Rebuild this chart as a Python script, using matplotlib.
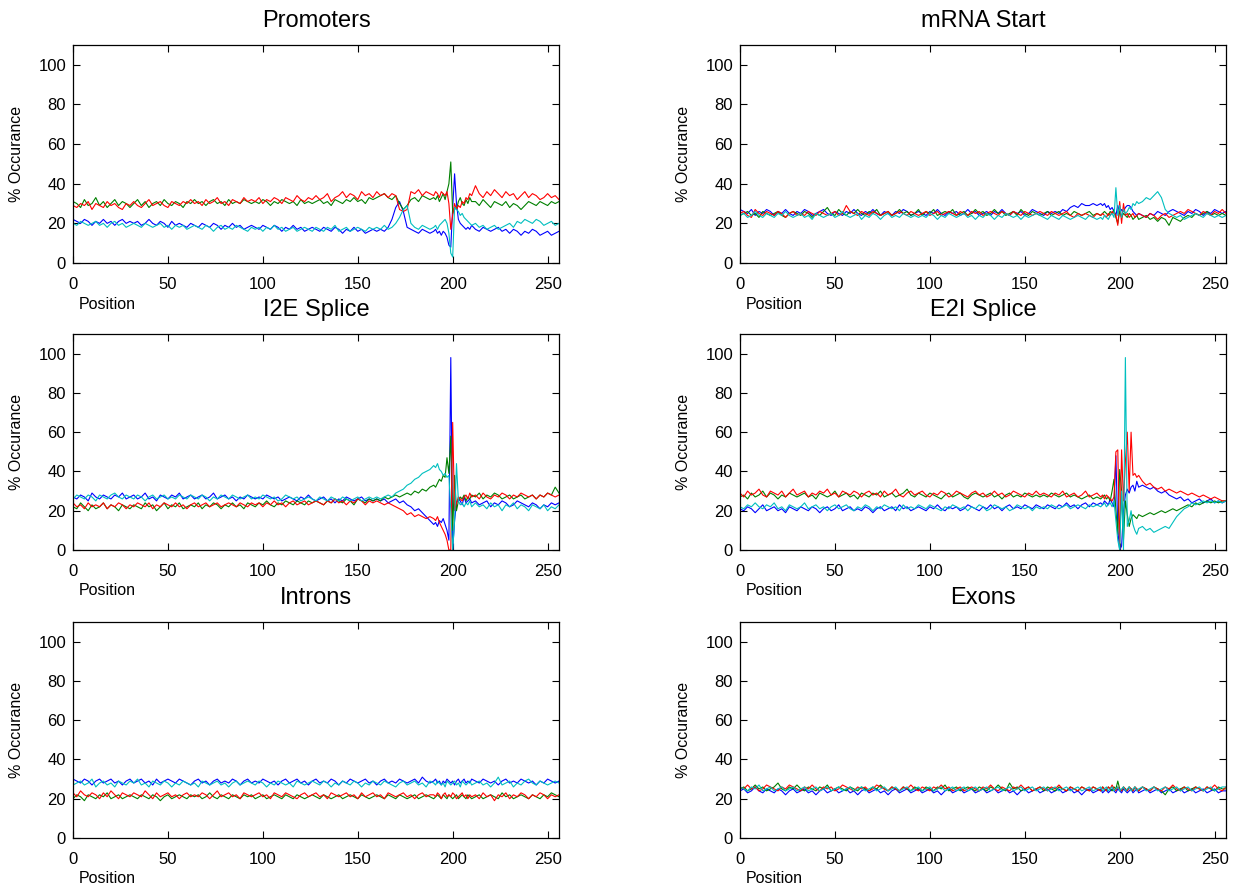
import numpy as np
import matplotlib
matplotlib.use("Agg")
from matplotlib import pyplot as plt

plt.rcParams['font.family'] = ['Liberation Sans', 'DejaVu Sans']

# positions: every 2nd base far from the site, every base around it
pos = np.concatenate([np.arange(0, 190, 2), np.arange(190, 211), np.arange(212, 257, 2)])

titles = ['Promoters', 'mRNA Start', 'I2E Splice', 'E2I Splice', 'Introns', 'Exons']

# ---------------- Promoters ----------------
prom_blue = [22, 21, 20, 22, 21, 19, 21, 20, 22, 20, 21, 19, 21, 22, 20, 21,
             20, 21, 19, 20, 22, 20, 19, 21, 20, 18, 21, 19, 20, 19, 18, 20,
             19, 18, 20, 19, 18, 20, 19, 17, 19, 18, 20, 18, 19, 17, 18, 19,
             18, 17, 19, 18, 17, 19, 18, 16, 18, 17, 19, 17, 18, 16, 17, 18,
             17, 16, 18, 17, 16, 18, 17, 15, 17, 16, 18, 16, 17, 15, 16, 17,
             16, 17, 16, 18, 22, 28, 31, 26, 18, 17, 16, 15, 17, 16, 15,
             16, 17, 15, 16, 14, 16, 15, 13, 9, 8, 28, 45, 30, 22, 20, 19, 18, 17, 18, 17, 19,
             17, 16, 18, 17, 16, 17, 18, 16, 17, 15, 17, 16, 14, 16, 15, 17, 16, 14, 15, 16, 14, 15, 16]
prom_green = [31, 30, 28, 32, 29, 30, 33, 29, 31, 28, 30, 32, 29, 31, 30, 28,
              30, 32, 29, 31, 28, 30, 31, 29, 32, 30, 29, 31, 30, 28, 31, 30,
              32, 30, 31, 29, 31, 32, 30, 31, 29, 32, 30, 31, 30, 32, 31, 30,
              31, 30, 32, 31, 29, 31, 30, 32, 31, 30, 31, 29, 32, 30, 31, 30,
              31, 32, 30, 31, 29, 32, 31, 30, 32, 31, 33, 31, 32, 30, 33, 32,
              33, 34, 35, 33, 32, 34, 30, 27, 29, 32, 33, 31, 34, 33, 32,
              33, 32, 34, 31, 33, 35, 32, 36, 40, 51, 25, 28, 27, 31, 33, 30, 29, 32, 30, 33, 31,
              31, 29, 32, 30, 28, 31, 30, 29, 31, 28, 30, 29, 27, 29, 31, 30, 29, 31, 30, 29, 31, 30, 31]
prom_red = [29, 28, 30, 29, 31, 27, 30, 29, 28, 31, 29, 30, 28, 27, 30, 29,
            31, 29, 28, 30, 32, 29, 30, 31, 29, 28, 31, 30, 29, 31, 30, 32,
            30, 31, 29, 32, 30, 31, 33, 30, 31, 29, 32, 31, 30, 33, 31, 32,
            31, 33, 30, 32, 31, 33, 32, 30, 33, 32, 31, 34, 32, 31, 33, 32,
            34, 32, 33, 35, 31, 33, 34, 36, 33, 35, 34, 32, 36, 34, 35, 33,
            36, 34, 35, 33, 35, 34, 27, 26, 27, 36, 35, 37, 34, 36, 35,
            34, 36, 35, 33, 36, 35, 34, 36, 30, 17, 24, 30, 27, 29, 28, 31, 30, 33, 32, 35, 34,
            39, 35, 33, 36, 34, 37, 35, 33, 36, 34, 35, 32, 34, 36, 33, 35, 34, 32, 33, 35, 33, 34, 32]
prom_cyan = [20, 19, 21, 20, 19, 20, 21, 19, 20, 18, 20, 21, 19, 20, 18, 19,
             20, 19, 18, 20, 19, 18, 19, 20, 18, 19, 17, 19, 18, 19, 17, 18,
             19, 18, 17, 19, 18, 16, 18, 19, 17, 18, 17, 19, 18, 17, 16, 18,
             17, 18, 16, 18, 17, 19, 17, 18, 16, 17, 18, 16, 17, 18, 17, 16,
             18, 17, 16, 18, 17, 19, 16, 17, 18, 16, 17, 18, 17, 16, 18, 17,
             18, 17, 19, 17, 18, 20, 23, 27, 29, 20, 18, 17, 19, 18, 17,
             18, 19, 17, 19, 20, 21, 22, 20, 15, 5, 3, 28, 27, 26, 24, 25, 23, 22, 21, 20, 19,
             20, 18, 19, 17, 18, 19, 17, 18, 19, 20, 18, 21, 20, 22, 21, 20, 22, 21, 19, 20, 21, 19, 20]

# ---------------- mRNA Start ----------------
mrna_blue = [27, 26, 25, 27, 24, 26, 25, 27, 26, 24, 26, 25, 27, 25, 24, 26,
             25, 27, 26, 24, 25, 26, 27, 25, 24, 26, 25, 24, 26, 25, 27, 25,
             24, 26, 25, 27, 25, 24, 26, 25, 24, 26, 25, 27, 26, 24, 25, 26,
             25, 24, 26, 25, 27, 25, 24, 26, 25, 26, 24, 25, 27, 25, 26, 24,
             25, 26, 24, 26, 25, 27, 25, 24, 26, 25, 26, 24, 25, 27, 26, 25,
             24, 26, 25, 26, 25, 27, 26, 28, 29, 28, 30, 29, 29, 30, 29,
             30, 29, 30, 28, 29, 27, 28, 26, 24, 29, 25, 27, 26, 28, 29, 29, 28, 26, 25, 24, 25,
             24, 23, 25, 24, 26, 25, 24, 26, 27, 26, 25, 24, 26, 25, 27, 26, 24, 26, 25, 27, 26, 25, 26]
mrna_green = [24, 25, 26, 24, 25, 23, 26, 25, 24, 25, 26, 24, 23, 25, 26, 25,
              24, 26, 25, 23, 25, 24, 26, 28, 25, 24, 27, 25, 24, 26, 25, 27,
              25, 24, 26, 25, 27, 24, 25, 26, 24, 25, 27, 25, 26, 24, 25, 27,
              24, 26, 25, 27, 24, 25, 26, 25, 27, 24, 25, 26, 24, 25, 27, 25,
              26, 24, 25, 27, 25, 26, 24, 25, 26, 24, 27, 25, 24, 26, 25, 24,
              25, 26, 24, 25, 26, 24, 25, 24, 26, 25, 24, 25, 26, 24, 25,
              24, 25, 26, 25, 24, 26, 25, 27, 23, 20, 26, 23, 25, 24, 23, 25, 24, 22, 23, 24, 22,
              23, 24, 22, 23, 21, 23, 22, 19, 23, 22, 21, 23, 24, 23, 25, 24, 25, 26, 24, 25, 24, 25, 24]
mrna_red = [25, 26, 24, 23, 27, 25, 24, 26, 25, 24, 26, 25, 23, 25, 26, 24,
            25, 24, 26, 25, 24, 26, 25, 24, 25, 26, 24, 25, 29, 26, 25, 24,
            26, 25, 24, 26, 25, 24, 25, 26, 24, 25, 26, 25, 24, 26, 25, 24,
            25, 26, 24, 25, 26, 24, 25, 26, 25, 24, 26, 25, 24, 26, 25, 26,
            24, 25, 26, 25, 24, 26, 25, 24, 26, 25, 24, 26, 25, 24, 25, 26,
            25, 24, 26, 25, 24, 25, 26, 24, 23, 25, 24, 25, 24, 23, 25,
            24, 25, 24, 23, 25, 24, 26, 25, 24, 19, 31, 20, 30, 24, 25, 23, 24, 25, 23, 24, 25,
            24, 23, 25, 24, 22, 24, 25, 23, 24, 25, 26, 25, 27, 26, 25, 24, 26, 25, 24, 26, 25, 27, 25]
mrna_cyan = [24, 25, 23, 24, 26, 24, 23, 25, 24, 23, 25, 24, 26, 24, 23, 24,
             25, 23, 24, 22, 25, 24, 23, 24, 25, 23, 24, 26, 24, 23, 24, 25,
             22, 24, 23, 25, 24, 22, 24, 25, 23, 24, 23, 25, 24, 23, 24, 23,
             24, 23, 25, 24, 22, 24, 23, 25, 24, 23, 24, 25, 23, 24, 22, 24,
             23, 25, 24, 22, 24, 23, 25, 24, 23, 24, 22, 24, 23, 24, 25, 24,
             23, 22, 24, 23, 22, 24, 23, 22, 23, 24, 23, 22, 24, 23, 22,
             23, 22, 24, 23, 22, 24, 25, 23, 38, 24, 29, 23, 27, 25, 26, 28, 27, 30, 29, 31, 30,
             31, 33, 32, 34, 36, 33, 27, 25, 24, 23, 24, 22, 23, 24, 25, 24, 23, 25, 24, 23, 24, 23, 24]

# ---------------- I2E Splice ----------------
i2e_blue = [27, 26, 28, 27, 25, 29, 27, 26, 28, 27, 26, 28, 27, 29, 26, 27,
            28, 26, 27, 29, 26, 27, 25, 28, 27, 26, 28, 27, 29, 26, 27, 28,
            26, 27, 28, 26, 27, 29, 26, 27, 28, 26, 27, 25, 27, 26, 28, 27,
            26, 27, 26, 28, 27, 26, 27, 25, 26, 27, 26, 25, 27, 26, 28, 26,
            25, 26, 27, 25, 26, 24, 26, 25, 27, 26, 25, 26, 27, 25, 26, 25,
            26, 25, 26, 24, 25, 26, 24, 25, 23, 22, 20, 21, 19, 17, 15,
            13, 14, 12, 15, 14, 16, 13, 10, 5, 98, 0, 15, 24, 26, 25, 23, 27, 24, 25, 26, 24,
            25, 23, 24, 25, 22, 24, 23, 25, 24, 22, 23, 25, 24, 23, 22, 24, 23, 21, 23, 22, 24, 23, 24]
i2e_green = [22, 21, 24, 22, 20, 23, 21, 22, 24, 21, 23, 22, 20, 23, 22, 21,
             23, 22, 21, 24, 22, 23, 20, 22, 24, 21, 23, 22, 24, 21, 22, 23,
             22, 24, 21, 23, 22, 24, 23, 21, 23, 22, 24, 22, 23, 21, 24, 23,
             22, 24, 23, 25, 23, 22, 24, 23, 25, 24, 23, 25, 24, 23, 25, 24,
             25, 24, 23, 25, 24, 26, 25, 24, 26, 25, 23, 26, 25, 24, 26, 25,
             26, 25, 27, 26, 27, 28, 27, 28, 29, 28, 30, 29, 31, 30, 32,
             33, 32, 34, 36, 35, 38, 37, 47, 39, 58, 10, 38, 20, 25, 27, 26, 28, 25, 27, 26, 28,
             27, 29, 26, 28, 27, 29, 28, 26, 27, 28, 26, 27, 28, 26, 27, 28, 26, 28, 27, 29, 28, 32, 29]
i2e_red = [24, 22, 23, 21, 24, 22, 23, 22, 24, 21, 23, 22, 24, 23, 21, 23,
           22, 24, 23, 22, 24, 21, 23, 22, 24, 23, 22, 24, 22, 23, 21, 23,
           24, 22, 23, 24, 22, 23, 24, 22, 23, 24, 23, 22, 24, 23, 22, 24,
           23, 24, 22, 24, 23, 25, 23, 24, 22, 24, 25, 23, 24, 25, 23, 24,
           25, 24, 23, 25, 24, 26, 24, 25, 23, 25, 24, 26, 25, 23, 25, 24,
           25, 24, 23, 24, 23, 22, 21, 20, 18, 19, 17, 18, 17, 16, 17,
           16, 15, 17, 14, 12, 10, 8, 5, 0, 0, 65, 20, 24, 27, 26, 25, 27, 28, 26, 29, 27,
           28, 26, 29, 27, 26, 28, 27, 29, 28, 26, 28, 27, 29, 28, 27, 28, 26, 28, 27, 29, 28, 27, 28]
i2e_cyan = [26, 28, 27, 26, 28, 27, 25, 28, 27, 26, 28, 29, 27, 26, 28, 27,
            26, 28, 27, 25, 27, 28, 26, 27, 28, 26, 27, 26, 28, 27, 26, 28,
            27, 26, 28, 27, 25, 27, 26, 28, 27, 26, 28, 27, 26, 27, 28, 26,
            27, 26, 28, 27, 26, 27, 25, 26, 28, 27, 26, 27, 25, 26, 27, 26,
            25, 27, 26, 25, 27, 26, 25, 27, 26, 25, 26, 27, 25, 26, 27, 26,
            27, 26, 27, 28, 27, 29, 30, 31, 33, 34, 36, 37, 39, 40, 41,
            43, 42, 44, 41, 40, 38, 39, 37, 38, 20, 0, 15, 44, 25, 23, 24, 22, 24, 23, 25, 22,
            24, 22, 23, 21, 24, 22, 23, 20, 23, 22, 24, 21, 23, 22, 20, 23, 22, 21, 23, 20, 22, 21, 23]

# ---------------- E2I Splice ----------------
e2i_blue = [21, 20, 22, 21, 19, 21, 23, 20, 21, 22, 20, 21, 19, 22, 21, 20,
            22, 21, 20, 22, 21, 19, 21, 22, 20, 21, 23, 20, 21, 22, 20, 21,
            20, 22, 21, 19, 21, 22, 20, 21, 22, 20, 23, 21, 22, 20, 21, 22,
            21, 20, 22, 21, 23, 21, 20, 22, 21, 22, 20, 21, 23, 22, 21, 20,
            22, 21, 23, 21, 22, 20, 22, 23, 21, 22, 21, 23, 22, 21, 23, 22,
            21, 23, 22, 21, 23, 22, 24, 22, 23, 21, 23, 24, 22, 24, 23,
            24, 23, 25, 24, 23, 26, 24, 22, 48, 10, 0, 2, 20, 28, 31, 29, 32, 33, 30, 35, 32,
            33, 32, 31, 32, 30, 29, 30, 28, 27, 26, 27, 25, 26, 24, 25, 26, 24, 25, 26, 24, 25, 24, 25]
e2i_green = [27, 28, 26, 29, 27, 28, 30, 27, 29, 28, 26, 28, 27, 29, 28, 27,
             28, 29, 27, 28, 26, 29, 28, 27, 28, 30, 27, 28, 29, 27, 28, 26,
             29, 28, 27, 29, 28, 30, 27, 28, 29, 27, 28, 29, 31, 28, 27, 29,
             28, 27, 29, 28, 27, 26, 28, 29, 27, 28, 29, 27, 26, 28, 29, 28,
             27, 28, 29, 27, 28, 26, 28, 29, 27, 28, 27, 29, 28, 27, 28, 27,
             28, 27, 29, 28, 27, 28, 29, 27, 28, 27, 26, 27, 28, 26, 27,
             26, 27, 28, 26, 27, 25, 30, 36, 20, 8, 41, 30, 5, 25, 18, 12, 16, 18, 17, 16, 18,
             17, 18, 19, 18, 19, 20, 19, 20, 21, 20, 21, 22, 23, 22, 24, 23, 24, 25, 24, 25, 24, 25, 25]
e2i_red = [29, 27, 30, 28, 29, 31, 28, 27, 30, 29, 28, 30, 27, 29, 31, 28,
           29, 30, 27, 29, 28, 30, 29, 31, 28, 29, 27, 30, 29, 28, 30, 29,
           27, 29, 30, 28, 29, 27, 30, 28, 29, 31, 28, 27, 29, 30, 28, 29,
           30, 28, 27, 29, 28, 30, 29, 27, 28, 30, 29, 28, 27, 29, 30, 28,
           29, 27, 28, 30, 28, 29, 27, 28, 30, 29, 28, 27, 29, 28, 30, 28,
           29, 28, 27, 29, 28, 30, 27, 28, 29, 27, 28, 30, 27, 28, 29,
           27, 28, 26, 28, 27, 26, 25, 27, 50, 51, 0, 51, 25, 45, 60, 30, 60, 38, 39, 37, 38,
           35, 33, 34, 32, 31, 32, 30, 31, 30, 29, 30, 29, 28, 29, 28, 27, 28, 27, 26, 27, 26, 25, 25]
e2i_cyan = [22, 21, 23, 22, 24, 22, 21, 23, 22, 24, 21, 22, 20, 23, 22, 21,
            22, 24, 21, 22, 23, 21, 22, 20, 22, 23, 21, 22, 23, 21, 20, 22,
            21, 23, 22, 20, 22, 21, 23, 22, 21, 22, 20, 23, 21, 22, 21, 23,
            22, 21, 23, 22, 21, 20, 22, 21, 23, 22, 21, 22, 20, 22, 21, 23,
            22, 20, 21, 23, 22, 21, 22, 20, 21, 23, 22, 21, 22, 20, 22, 21,
            22, 21, 23, 22, 21, 22, 23, 21, 22, 23, 22, 21, 23, 22, 23,
            22, 23, 24, 22, 23, 24, 22, 25, 15, 5, 0, 30, 0, 98, 12, 15, 20, 13, 10, 8, 11,
            12, 10, 11, 9, 10, 11, 12, 11, 14, 17, 19, 21, 22, 24, 23, 24, 25, 24, 25, 24, 25, 24, 25]

# ---------------- Introns ----------------
intr_blue = [30, 29, 28, 30, 29, 27, 29, 30, 28, 29, 30, 28, 29, 27, 29, 30,
             28, 29, 30, 28, 29, 27, 30, 28, 29, 30, 29, 28, 30, 29, 28, 27,
             29, 30, 28, 29, 27, 29, 30, 28, 29, 28, 30, 29, 27, 29, 30, 28,
             29, 28, 30, 29, 28, 29, 27, 29, 30, 28, 29, 30, 28, 29, 27, 29,
             30, 28, 29, 28, 30, 29, 27, 29, 28, 30, 29, 28, 29, 30, 28, 29,
             27, 29, 30, 28, 29, 28, 30, 29, 28, 29, 30, 28, 31, 29, 28,
             29, 30, 28, 29, 27, 29, 28, 30, 29, 28, 29, 27, 29, 30, 28, 29, 30, 28, 29, 28, 30,
             29, 28, 30, 29, 28, 29, 27, 29, 30, 28, 29, 28, 30, 29, 28, 29, 27, 29, 28, 30, 29, 28, 29]
intr_green = [20, 22, 21, 19, 22, 21, 20, 22, 21, 23, 20, 21, 22, 20, 21, 22,
              21, 20, 22, 21, 20, 22, 21, 19, 21, 22, 20, 21, 22, 21, 20, 22,
              21, 22, 20, 21, 23, 21, 20, 22, 21, 20, 22, 21, 20, 22, 21, 22,
              20, 21, 22, 20, 21, 22, 21, 20, 22, 21, 20, 22, 21, 20, 21, 22,
              21, 20, 22, 21, 20, 21, 22, 20, 21, 22, 21, 20, 22, 21, 20, 21,
              22, 21, 20, 22, 21, 20, 22, 21, 20, 21, 22, 20, 21, 22, 21,
              20, 21, 22, 21, 20, 22, 21, 20, 22, 21, 20, 21, 22, 20, 21, 22, 21, 20, 22, 21, 20,
              21, 22, 20, 21, 22, 21, 20, 23, 21, 22, 20, 21, 22, 21, 20, 22, 21, 20, 22, 21, 23, 22, 21]
intr_red = [23, 21, 24, 22, 21, 23, 22, 20, 23, 21, 24, 22, 20, 23, 22, 21,
            23, 22, 21, 24, 22, 20, 23, 21, 22, 23, 21, 22, 20, 22, 23, 21,
            22, 21, 23, 22, 20, 22, 24, 21, 22, 23, 21, 22, 20, 23, 22, 21,
            22, 23, 21, 22, 20, 23, 22, 21, 23, 22, 21, 20, 22, 23, 21, 22,
            23, 21, 22, 20, 23, 22, 21, 22, 23, 21, 22, 20, 23, 21, 22, 23,
            21, 22, 20, 23, 22, 21, 22, 23, 21, 22, 20, 22, 23, 21, 22,
            22, 21, 23, 22, 20, 22, 23, 21, 22, 21, 23, 22, 20, 21, 22, 23, 21, 22, 20, 22, 21,
            22, 20, 23, 21, 22, 19, 22, 21, 23, 20, 22, 21, 23, 22, 20, 22, 21, 23, 22, 20, 22, 21, 22]
intr_cyan = [27, 28, 29, 27, 28, 30, 26, 28, 29, 27, 28, 26, 29, 28, 27, 29,
             28, 30, 27, 28, 26, 29, 28, 27, 29, 28, 26, 28, 27, 29, 28, 27,
             28, 26, 29, 28, 27, 28, 29, 27, 28, 26, 28, 29, 27, 28, 29, 28,
             27, 29, 28, 26, 28, 27, 29, 28, 27, 28, 26, 29, 28, 27, 28, 29,
             28, 27, 29, 28, 26, 28, 27, 29, 28, 27, 29, 28, 26, 28, 27, 29,
             28, 27, 29, 28, 27, 26, 28, 29, 27, 28, 29, 27, 28, 26, 29,
             28, 27, 29, 28, 27, 28, 26, 29, 28, 27, 28, 29, 27, 28, 26, 29, 28, 27, 28, 29, 27,
             28, 29, 27, 28, 26, 28, 31, 27, 28, 29, 26, 28, 27, 29, 30, 28, 27, 29, 28, 27, 28, 29, 28]

# ---------------- Exons ----------------
exon_blue = [24, 25, 23, 24, 26, 24, 23, 25, 24, 23, 25, 24, 22, 24, 25, 23,
             24, 25, 23, 24, 22, 24, 25, 23, 24, 25, 23, 24, 25, 23, 24, 22,
             24, 25, 23, 24, 25, 23, 24, 22, 24, 25, 23, 24, 25, 23, 24, 25,
             23, 24, 25, 23, 24, 22, 24, 25, 23, 24, 25, 23, 24, 25, 23, 24,
             25, 23, 24, 25, 23, 24, 25, 23, 24, 22, 24, 25, 23, 24, 25, 23,
             24, 25, 23, 24, 25, 23, 24, 25, 23, 24, 22, 24, 25, 23, 24,
             25, 23, 24, 25, 23, 24, 25, 24, 23, 25, 24, 23, 25, 24, 23, 24, 25, 23, 24, 25, 23,
             24, 25, 23, 24, 25, 23, 24, 25, 23, 24, 25, 23, 24, 25, 23, 24, 25, 23, 24, 25, 23, 24, 24]
exon_green = [25, 26, 24, 25, 27, 25, 26, 24, 25, 26, 28, 25, 24, 26, 25, 27,
              25, 24, 26, 25, 24, 26, 25, 27, 24, 25, 26, 25, 24, 26, 25, 24,
              26, 25, 24, 26, 25, 27, 25, 24, 26, 25, 24, 26, 25, 24, 26, 25,
              24, 26, 25, 24, 26, 25, 27, 24, 25, 26, 24, 25, 26, 25, 24, 26,
              25, 24, 26, 25, 27, 25, 24, 28, 25, 26, 24, 25, 26, 24, 25, 26,
              24, 26, 25, 24, 26, 25, 24, 26, 25, 24, 26, 25, 24, 26, 25,
              24, 26, 25, 24, 26, 25, 24, 26, 25, 29, 25, 24, 26, 25, 24, 26, 25, 24, 26, 25, 24,
              26, 25, 24, 26, 25, 24, 22, 25, 26, 24, 25, 26, 24, 25, 26, 25, 24, 26, 25, 24, 26, 25, 25]
exon_red = [26, 25, 27, 25, 26, 24, 25, 27, 26, 25, 24, 26, 25, 27, 26, 25,
            24, 26, 25, 27, 25, 24, 26, 25, 26, 24, 25, 27, 26, 25, 24, 26,
            25, 26, 24, 25, 27, 26, 25, 24, 26, 25, 24, 26, 25, 27, 25, 24,
            26, 25, 24, 26, 25, 27, 25, 26, 24, 25, 26, 24, 25, 26, 25, 24,
            26, 25, 27, 25, 24, 26, 25, 24, 26, 25, 27, 25, 26, 24, 25, 26,
            25, 24, 26, 25, 27, 25, 24, 26, 25, 24, 26, 25, 24, 26, 25,
            24, 26, 25, 24, 26, 25, 27, 25, 24, 26, 25, 24, 26, 25, 24, 26, 25, 24, 26, 25, 24,
            26, 25, 24, 26, 25, 24, 26, 25, 27, 25, 24, 26, 25, 24, 26, 25, 24, 26, 25, 27, 25, 24, 26]
exon_cyan = [26, 25, 24, 26, 25, 27, 24, 25, 26, 24, 25, 26, 24, 25, 26, 24,
             25, 26, 24, 25, 26, 24, 25, 26, 24, 25, 26, 24, 25, 26, 24, 25,
             26, 24, 25, 26, 24, 25, 26, 24, 25, 26, 24, 25, 26, 24, 25, 26,
             24, 25, 26, 24, 25, 26, 24, 25, 26, 24, 25, 26, 24, 25, 26, 24,
             25, 26, 24, 25, 26, 24, 25, 26, 24, 25, 26, 24, 25, 26, 24, 25,
             26, 24, 25, 26, 24, 25, 26, 24, 25, 26, 24, 25, 26, 24, 25,
             26, 24, 25, 26, 24, 25, 26, 24, 25, 26, 24, 25, 26, 24, 25, 26, 24, 25, 26, 24, 25,
             26, 24, 25, 26, 24, 25, 26, 24, 25, 26, 24, 25, 26, 24, 25, 26, 24, 25, 26, 24, 25, 26, 26]

panels = [
    (prom_blue, prom_green, prom_red, prom_cyan),
    (mrna_blue, mrna_green, mrna_red, mrna_cyan),
    (i2e_blue, i2e_green, i2e_red, i2e_cyan),
    (e2i_blue, e2i_green, e2i_red, e2i_cyan),
    (intr_blue, intr_green, intr_red, intr_cyan),
    (exon_blue, exon_green, exon_red, exon_cyan),
]
colors = ['#0000ff', '#008000', '#ff0000', '#00bfbf']

fig = plt.figure(figsize=(12.4, 8.88), dpi=100)
lefts = [73 / 1240, 740 / 1240]
rows = [(45, 263), (334, 550), (622, 838)]

for k, series in enumerate(panels):
    r, c = divmod(k, 2)
    top, bot = rows[r]
    ax = fig.add_axes([lefts[c], 1 - bot / 888, 486 / 1240, (bot - top) / 888])
    for vals, col in zip(series, colors):
        ax.plot(pos, vals, color=col, lw=0.8)
    ax.set_xlim(0, 256)
    ax.set_ylim(0, 110)
    ax.set_xticks([0, 50, 100, 150, 200, 250])
    ax.set_yticks([0, 20, 40, 60, 80, 100])
    ax.tick_params(direction='in', top=True, right=True, length=5, width=0.8, labelsize=12)
    ax.tick_params(axis='x', pad=10)
    ax.tick_params(axis='y', pad=5)
    for s in ax.spines.values():
        s.set_linewidth(0.9)
    ax.set_title(titles[k], fontsize=17, pad=13)
    ax.set_ylabel('% Occurance', fontsize=11.5, labelpad=10)
    ax.set_xlabel('Position', fontsize=11.5, loc='left')
    ax.xaxis.set_label_coords(0.012, -0.155)

plt.savefig('out.png', dpi=100)
